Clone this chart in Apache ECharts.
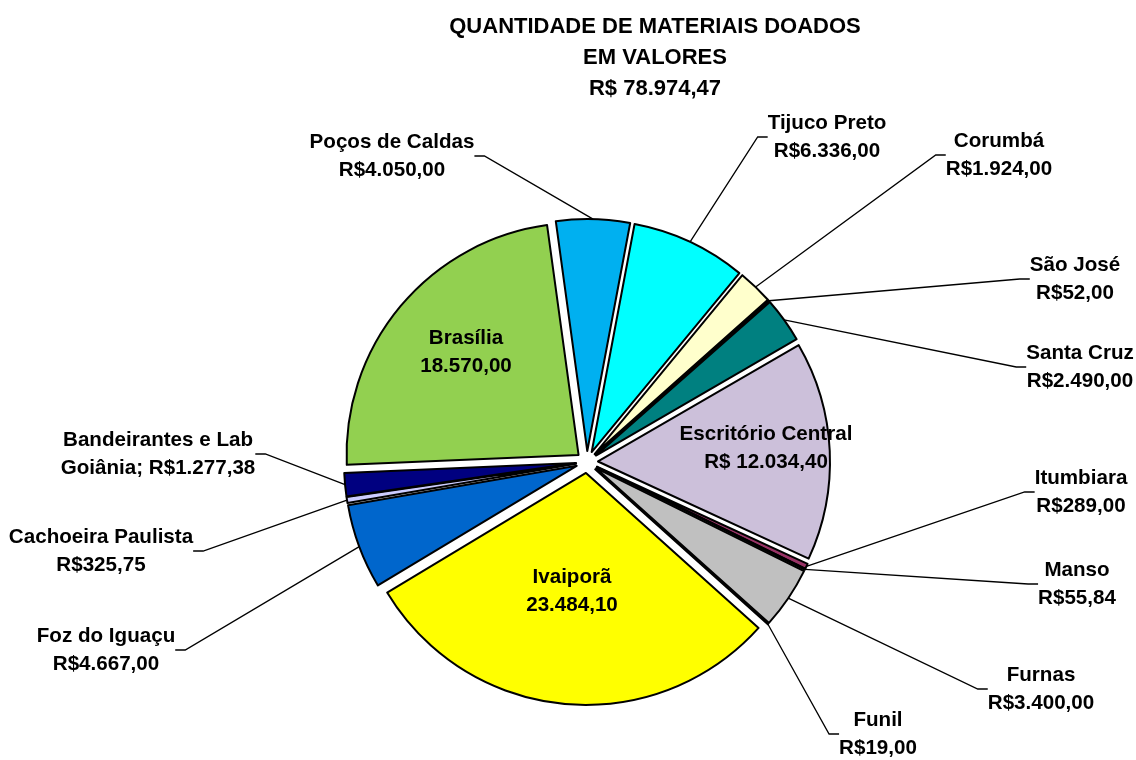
<!DOCTYPE html>
<html>
<head>
<meta charset="utf-8">
<script src="https://cdn.jsdelivr.net/npm/echarts@6/dist/echarts.min.js"></script>
<style>
html,body{margin:0;padding:0;background:#fff;}
#chart{width:1136px;height:760px;}
</style>
</head>
<body>
<div id="chart"></div>
<script>
// ---- data ----
const titleLines = ['QUANTIDADE DE MATERIAIS DOADOS', 'EM VALORES', 'R$ 78.974,47'];
const categories = ['Poços de Caldas', 'Tijuco Preto', 'Corumbá', 'São José', 'Santa Cruz',
  'Escritório Central', 'Itumbiara', 'Manso', 'Furnas', 'Funil', 'Ivaiporã',
  'Foz do Iguaçu', 'Cachoeira Paulista', 'Bandeirantes e Lab Goiânia', 'Brasília'];
const values = [4050.00, 6336.00, 1924.00, 52.00, 2490.00,
  12034.40, 289.00, 55.84, 3400.00, 19.00, 23484.10,
  4667.00, 325.75, 1277.38, 18570.00];

// ---- styles / layout (not data) ----
const colors = ['#00B0F0', '#00FFFF', '#FFFFCC', '#333399', '#008080',
  '#CCC0DA', '#993366', '#000080', '#C0C0C0', '#666699', '#FFFF00',
  '#0066CC', '#CCCCFF', '#000080', '#92D050'];
const insideIdx = [5, 10, 14];
// label block centres (px)
const labelPos = [[392,156],[827,137],[999,155],[1075,279],[1080,367],
  [766,448],[1081,492],[1077,584],[1041,689],[878,734],[572,591],
  [106,650],[101,551],[158,454],[466,352]];
const CX = 587, CY = 462, R = 232, EXPLODE = 11, START = -7.8; // START: compass degrees of first slice edge

const FONT = "'Liberation Sans',Arial,sans-serif";

function fmt(v) {
  const parts = v.toFixed(2).split('.');
  const intPart = parts[0].replace(/\B(?=(\d{3})+(?!\d))/g, '.');
  return intPart + ',' + parts[1];
}
function labelText(i) {
  const n = categories[i], v = values[i];
  if (i === 13) return 'Bandeirantes e Lab\nGoiânia; R$' + fmt(v);
  if (i === 5) return n + '\nR$ ' + fmt(v);
  if (i === 10 || i === 14) return n + '\n' + fmt(v);
  return n + '\nR$' + fmt(v);
}

const total = values.reduce((a, b) => a + b, 0);
let cum = 0;
const series = categories.map((name, i) => {
  const startC = START + cum / total * 360;
  const span = values[i] / total * 360;
  cum += values[i];
  const mid = (startC + span / 2) * Math.PI / 180;
  const inside = insideIdx.indexOf(i) >= 0;
  return {
    type: 'pie',
    center: [CX + EXPLODE * Math.sin(mid), CY - EXPLODE * Math.cos(mid)],
    radius: R,
    startAngle: 90 - startC,
    clockwise: true,
    avoidLabelOverlap: false,
    minShowLabelAngle: 0,
    emphasis: { disabled: true },
    silent: true,
    itemStyle: { borderColor: '#000', borderWidth: 2 },
    label: {
      show: true,
      position: inside ? 'inside' : 'outside',
      formatter: () => labelText(i),
      fontFamily: FONT, fontWeight: 'bold', fontSize: 20.6, lineHeight: 28,
      color: '#000', align: 'center'
    },
    labelLine: {
      show: !inside, length: 20, length2: 10,
      lineStyle: { color: '#000', width: 1.3 }
    },
    labelLayout: function () {
      const p = labelPos[i];
      return { x: p[0], y: p[1], align: 'center', verticalAlign: 'middle' };
    },
    data: [
      { name: name, value: values[i], itemStyle: { color: colors[i] } },
      { name: '', value: total - values[i],
        itemStyle: { color: 'rgba(0,0,0,0)', borderWidth: 0 },
        label: { show: false }, labelLine: { show: false } }
    ]
  };
});

const chart = echarts.init(document.getElementById('chart'), null, { renderer: 'canvas' });
chart.setOption({
  animation: false,
  backgroundColor: '#ffffff',
  title: {
    text: titleLines.join('\n'),
    left: 650, top: 6, textAlign: 'center',
    textStyle: { fontFamily: FONT, fontWeight: 'bold', fontSize: 22, lineHeight: 31, color: '#000' }
  },
  series: series
});
</script>
</body>
</html>
